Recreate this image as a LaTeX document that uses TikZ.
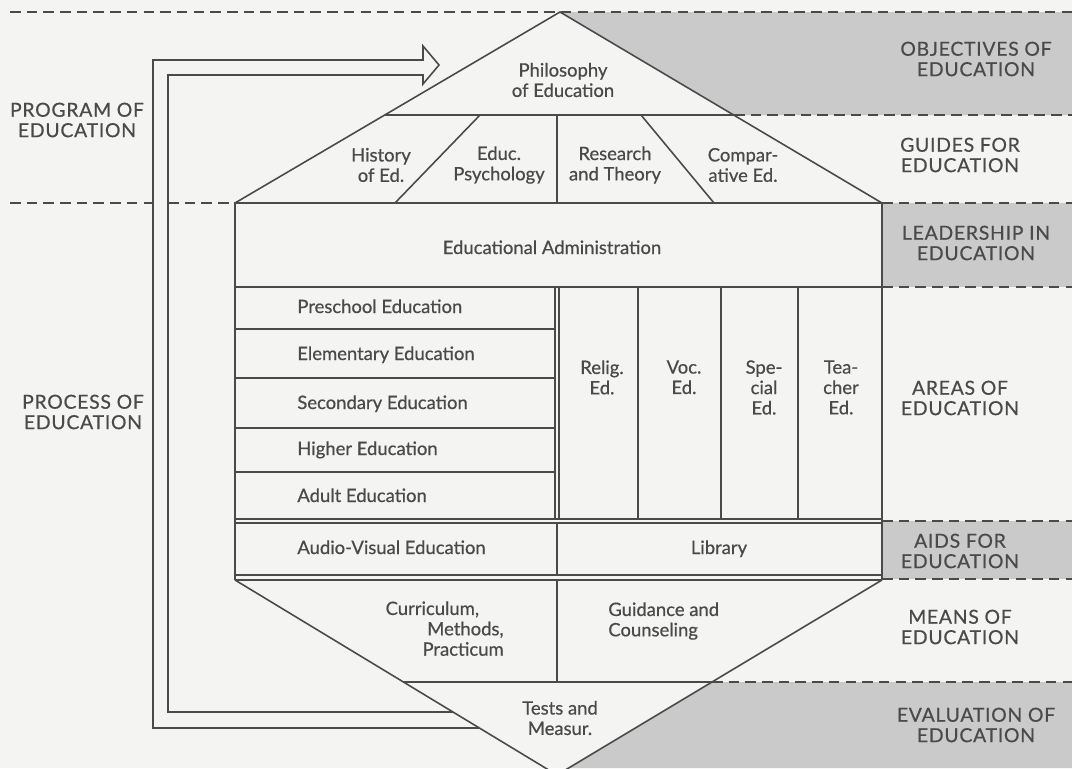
\documentclass[tikz,border=0pt]{standalone}
\usepackage{fontspec}
\setmainfont{Lato}[FakeBold=0.6]
\usetikzlibrary{positioning}
\definecolor{paper}{HTML}{F4F4F2}
\definecolor{bandgray}{HTML}{CACACA}
\definecolor{ink}{HTML}{4A4A4A}
\begin{document}
\begin{tikzpicture}[
		x=0.02cm, y=-0.02cm,
		every node/.style={font=\fontsize{10.5}{11.6}\selectfont, text=ink, inner sep=0pt, align=center},
		heading/.style={font=\fontsize{11}{11.6}\selectfont\addfontfeatures{LetterSpace=4}},
		wall/.style={draw=ink, line width=0.9pt, line join=miter},
		guide/.style={draw=ink, line width=0.6pt, dash pattern=on 6pt off 3.5pt}
	]

		% Page
		\clip (0,0) rectangle (1072,768);
		\fill[paper] (0,0) rectangle (1072,768);

		% Bands
		\fill[bandgray] (560,12) -- (1072,12) -- (1072,115) -- (734,115) -- cycle;
		\fill[bandgray] (882,203) rectangle (1072,287);
		\fill[bandgray] (882,521) rectangle (1072,579);
		\fill[bandgray] (712,682) -- (1072,682) -- (1072,768) -- (569,768) -- cycle;

		% Guides
		\draw[guide] (10,12) -- (1072,12);
		\draw[guide] (734,115) -- (1072,115);
		\draw[guide] (10,203) -- (153,203);
		\draw[guide] (168,203) -- (235,203);
		\draw[guide] (882,203) -- (1072,203);
		\draw[guide] (882,287) -- (1072,287);
		\draw[guide] (882,521) -- (1072,521);
		\draw[guide] (882,579) -- (1072,579);
		\draw[guide] (712,682) -- (1072,682);

		% Roof
		\draw[wall] (235,203) -- (560,12) -- (882,203);
		\draw[wall] (385,115) -- (734,115);
		\draw[wall] (480,115) -- (395,203);
		\draw[wall] (557,115) -- (557,203);
		\draw[wall] (641,115) -- (714,203);

		% Body
		\draw[wall] (235,203) rectangle (882,287);
		\draw[wall] (235,287) -- (235,580);
		\draw[wall] (882,287) -- (882,580);
		\foreach \y in {329,378,428,472}
			\draw[wall] (235,\y) -- (555,\y);
		\draw[wall] (555,287) -- (555,519);
		\draw[wall] (559,287) -- (559,519);
		\foreach \x in {638,721,798}
			\draw[wall] (\x,287) -- (\x,519);
		\draw[wall] (235,519) -- (882,519);
		\draw[wall] (235,523) -- (882,523);
		\draw[wall] (557,523) -- (557,575);
		\draw[wall] (235,575) -- (882,575);
		\draw[wall] (235,580) -- (882,580);

		% Base
		\draw[wall] (235,580) -- (557,775) -- (882,580);
		\draw[wall] (557,580) -- (557,682);
		\draw[wall] (403,682) -- (712,682);

		% Loop arrow
		\draw[wall] (479,728) -- (153,728) -- (153,60) -- (423,60) -- (423,46)
			-- (439,65) -- (423,84) -- (423,75) -- (168,75) -- (168,712) -- (453,712);

		% Nodes
		\node (phil) at (563,80) {Philosophy\\of Education};
		\node (hist) at (381,165) {History\\of Ed.};
		\node (psych) at (499,165) {Educ.\\Psychology};
		\node (research) at (615,165) {Research\\and Theory};
		\node (compar) at (743,165) {Compar-\\ative Ed.};
		\node[anchor=base] (admin) at (552,254) {Educational Administration};
		\node[anchor=base west] (preschool) at (297,313) {Preschool Education};
		\node[anchor=base west] (elementary) at (297,360) {Elementary Education};
		\node[anchor=base west] (secondary) at (297,409) {Secondary Education};
		\node[anchor=base west] (higher) at (297,455) {Higher Education};
		\node[anchor=base west] (adult) at (297,502) {Adult Education};
		\node[anchor=north] (relig) at (602,360) {Relig.\\Ed.};
		\node[anchor=north] (voc) at (684,360) {Voc.\\Ed.};
		\node[anchor=north] (special) at (764,360) {Spe-\\cial\\Ed.};
		\node[anchor=north] (teacher) at (841,360) {Tea-\\cher\\Ed.};
		\node[anchor=base west] (audio) at (297,554) {Audio-Visual Education};
		\node[anchor=base] (library) at (719,554) {Library};
		\node[anchor=north east, align=right] (curric) at (504,601) {Curriculum,\hspace*{14pt}\\Methods,\hspace*{14pt}\\Practicum};
		\node[anchor=north west, align=left] (guidance) at (608,602) {Guidance and\\Counseling};
		\node (tests) at (560,718) {Tests and\\Measur.};

		% Headings
		\node[heading] (objectives) at (976,59) {OBJECTIVES OF\\EDUCATION};
		\node[heading] (guides) at (960,155) {GUIDES FOR\\EDUCATION};
		\node[heading] (leadership) at (976,243) {LEADERSHIP IN\\EDUCATION};
		\node[heading] (areas) at (960,398) {AREAS OF\\EDUCATION};
		\node[heading] (aids) at (960,551) {AIDS FOR\\EDUCATION};
		\node[heading] (means) at (960,627) {MEANS OF\\EDUCATION};
		\node[heading] (evaluation) at (976,725) {EVALUATION OF\\EDUCATION};
		\node[heading] (program) at (77,120) {PROGRAM OF\\EDUCATION};
		\node[heading] (process) at (83,412) {PROCESS OF\\EDUCATION};

	\end{tikzpicture}
\end{document}
